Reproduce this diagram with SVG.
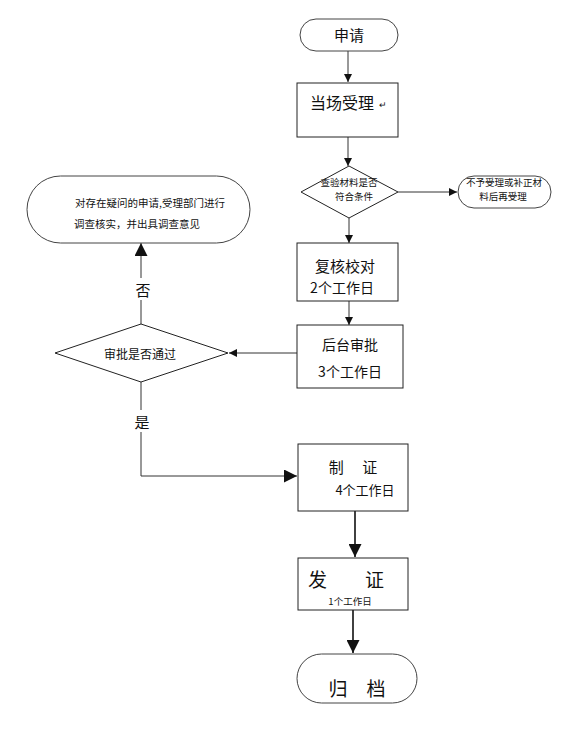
<svg xmlns="http://www.w3.org/2000/svg" width="563" height="740" viewBox="0 0 563 740">
<style>
.box{fill:#fff;stroke:#222;stroke-width:1}
.term{fill:#fff;stroke:#444;stroke-width:1}
.ln{fill:none;stroke:#333;stroke-width:1}
.lnb{fill:none;stroke:#111;stroke-width:1.6}
text{font-family:"Noto Sans CJK SC","Liberation Sans",sans-serif;fill:#111;text-anchor:middle}
</style>
<defs>
<marker id="ah" viewBox="0 0 10 10" refX="10" refY="5" markerWidth="8" markerHeight="8" markerUnits="userSpaceOnUse" orient="auto"><path d="M0,0 L10,5 L0,10 z" fill="#111"/></marker>
<marker id="ahb" viewBox="0 0 10 10" refX="10" refY="5" markerWidth="15" markerHeight="13" markerUnits="userSpaceOnUse" orient="auto"><path d="M0,0 L10,5 L0,10 z" fill="#111"/></marker>
</defs>
<rect width="563" height="740" fill="#fff"/>
<g id="connectors">
<line class="ln" x1="348" y1="51" x2="348" y2="82" marker-end="url(#ah)"/>
<line class="ln" x1="348" y1="137" x2="348" y2="166" marker-end="url(#ah)"/>
<line class="ln" x1="398" y1="192" x2="457" y2="192" marker-end="url(#ah)"/>
<line class="ln" x1="349" y1="218" x2="349" y2="243" marker-end="url(#ah)"/>
<line class="ln" x1="349" y1="301" x2="349" y2="325" marker-end="url(#ah)"/>
<line class="ln" x1="297" y1="353" x2="229" y2="353" marker-end="url(#ah)"/>
<polyline class="ln" points="141,324 141,300"/>
<line class="ln" x1="141" y1="278" x2="141" y2="243" marker-end="url(#ahb)"/>
<polyline class="ln" points="141,382 141,410"/>
<polyline class="ln" points="141,432 141,476 297,476" marker-end="url(#ahb)"/>
<line class="lnb" x1="355" y1="511" x2="355" y2="557" marker-end="url(#ahb)"/>
<line class="lnb" x1="353" y1="610" x2="353" y2="653" marker-end="url(#ahb)"/>
<text x="143" y="296" font-size="15">否</text>
<text x="142" y="428" font-size="15">是</text>
</g>
<g id="n-apply">
<rect class="term" x="300" y="19" width="98" height="32" rx="16"/>
<text x="349" y="41" font-size="15">申请</text>
</g>
<g id="n-accept">
<rect class="box" x="297" y="83" width="101" height="54"/>
<text x="342" y="109" font-size="16">当场受理</text>
<text x="383" y="108" font-size="9" fill="#777">↵</text>
</g>
<g id="n-check">
<polygon class="box" points="349,166 398,192 349,218 301,192"/>
<text x="349" y="186" font-size="9.5">查验材料是否</text>
<text x="354" y="200" font-size="9.5">符合条件</text>
</g>
<g id="n-reject">
<rect class="term" x="458" y="176" width="93" height="32" rx="16"/>
<text x="504" y="186" font-size="9.5">不予受理或补正材</text>
<text x="503" y="200" font-size="9.5">料后再受理</text>
</g>
<g id="n-review">
<rect class="box" x="297" y="243" width="101" height="58"/>
<text x="345" y="272" font-size="15">复核校对</text>
<text x="342" y="293" font-size="14">2个工作日</text>
</g>
<g id="n-approve">
<rect class="box" x="297" y="325" width="106" height="63"/>
<text x="350" y="350" font-size="14">后台审批</text>
<text x="350" y="377" font-size="14">3个工作日</text>
</g>
<g id="n-decision">
<polygon class="box" points="141,324 228,353 141,382 55,353"/>
<text x="140" y="359" font-size="12">审批是否通过</text>
</g>
<g id="n-investigate">
<rect class="term" x="27" y="176" width="223" height="67" rx="33.5"/>
<text x="150" y="207" font-size="10.5">对存在疑问的申请,受理部门进行</text>
<text x="137" y="228" font-size="10.5">调查核实，并出具调查意见</text>
</g>
<g id="n-make">
<rect class="box" x="298" y="444" width="110" height="67"/>
<text x="353" y="473" font-size="15" xml:space="preserve">制　 证</text>
<text x="365" y="495" font-size="13">4个工作日</text>
</g>
<g id="n-issue">
<rect class="box" x="298" y="558" width="110" height="52"/>
<text x="346" y="587" font-size="19" xml:space="preserve">发　　证</text>
<text x="350" y="605" font-size="9.5">1个工作日</text>
</g>
<g id="n-archive">
<rect class="term" x="297" y="654" width="120" height="49" rx="24.5"/>
<text x="357" y="696" font-size="19" xml:space="preserve">归　档</text>
</g>
</svg>
